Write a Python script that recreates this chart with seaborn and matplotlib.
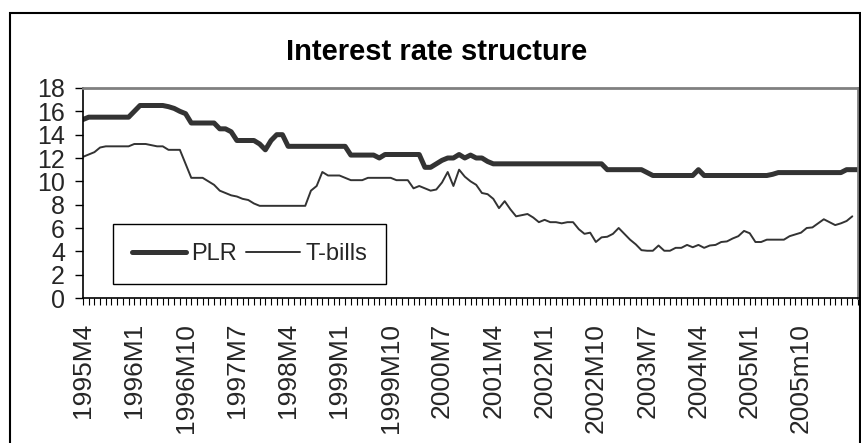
import numpy as np
import pandas as pd
import matplotlib
matplotlib.use("Agg")
import matplotlib.pyplot as plt
import seaborn as sns
from matplotlib.patches import Rectangle
from matplotlib.lines import Line2D
from matplotlib.ticker import MultipleLocator

sns.set_theme(style="white")
plt.rcParams['font.family'] = ['Liberation Sans', 'DejaVu Sans']

# ---------------- data ----------------
tick_labels = ["1995M4", "1996M1", "1996M10", "1997M7", "1998M4", "1999M1",
               "1999M10", "2000M7", "2001M4", "2002M1", "2002M10", "2003M7",
               "2004M4", "2005M1", "2005m10"]

plr = [15.3,
       15.5, 15.5, 15.5, 15.5, 15.5, 15.5, 15.5, 15.5,
       16.0,
       16.5, 16.5, 16.5, 16.5, 16.5,
       16.4, 16.25, 16.0, 15.8,
       15.0, 15.0, 15.0, 15.0, 15.0,
       14.5, 14.5, 14.25,
       13.5, 13.5, 13.5, 13.5,
       13.2, 12.7, 13.5, 14.0, 14.0,
       13.0, 13.0, 13.0, 13.0, 13.0, 13.0, 13.0, 13.0, 13.0, 13.0, 13.0,
       12.25, 12.25, 12.25, 12.25, 12.25,
       12.0,
       12.3, 12.3, 12.3, 12.3, 12.3, 12.3, 12.3,
       11.2, 11.2, 11.5, 11.8, 12.0, 12.0, 12.3, 12.0, 12.25, 12.0, 12.0, 11.7,
       11.5, 11.5, 11.5, 11.5, 11.5, 11.5, 11.5, 11.5, 11.5, 11.5,
       11.5, 11.5, 11.5, 11.5, 11.5, 11.5, 11.5, 11.5, 11.5, 11.5,
       11.0, 11.0, 11.0, 11.0, 11.0, 11.0, 11.0,
       10.75,
       10.5, 10.5, 10.5, 10.5, 10.5, 10.5, 10.5, 10.5,
       11.0,
       10.5, 10.5, 10.5, 10.5, 10.5, 10.5, 10.5, 10.5, 10.5, 10.5, 10.5, 10.5,
       10.6,
       10.75, 10.75, 10.75, 10.75, 10.75, 10.75, 10.75, 10.75, 10.75, 10.75, 10.75, 10.75,
       11.0, 11.0, 11.0]

tbills = [12.1, 12.3, 12.5, 12.9,
          13.0, 13.0, 13.0, 13.0, 13.0,
          13.2, 13.2, 13.2, 13.1, 13.0, 13.0,
          12.7, 12.7, 12.7, 11.5,
          10.3, 10.3, 10.3,
          10.0, 9.7, 9.2, 9.0, 8.8, 8.7, 8.5, 8.4, 8.1,
          7.9, 7.9, 7.9, 7.9, 7.9, 7.9, 7.9, 7.9, 7.9,
          9.2, 9.6, 10.8,
          10.5, 10.5, 10.5, 10.3,
          10.1, 10.1, 10.1,
          10.3, 10.3, 10.3, 10.3, 10.3,
          10.1, 10.1, 10.1,
          9.4, 9.6, 9.4, 9.2, 9.3, 9.9, 10.8, 9.6, 11.0, 10.4,
          10.0, 9.7, 9.0, 8.9, 8.5, 7.7, 8.3, 7.6, 7.0, 7.1,
          7.2, 6.9, 6.5, 6.7, 6.5, 6.5, 6.4, 6.5, 6.5, 5.9,
          5.5, 5.6, 4.8, 5.2, 5.25, 5.5, 6.0, 5.5, 5.0, 4.6,
          4.1, 4.05, 4.05, 4.5, 4.05, 4.05, 4.3, 4.3, 4.55, 4.35,
          4.55, 4.3, 4.5, 4.55, 4.8, 4.85, 5.1, 5.3, 5.75, 5.55,
          4.8, 4.8, 5.0,
          5.0, 5.0, 5.0,
          5.3, 5.45, 5.6, 6.0, 6.05, 6.4, 6.75, 6.5, 6.25, 6.4, 6.6, 7.0,
          np.nan]

assert len(plr) == len(tbills)

n = len(plr)
df = pd.DataFrame({"month": np.arange(n), "PLR": plr, "T-bills": tbills})

# ---------------- figure ----------------
W, H = 861, 443
fig = plt.figure(figsize=(W / 100, H / 100), dpi=100)
fig.patch.set_facecolor("white")

x0, x1, ytop, ybot = 83, 858, 88, 298
ax = fig.add_axes([x0 / W, 1 - ybot / H, (x1 - x0) / W, (ybot - ytop) / H])
ax.set_facecolor("white")

line_col = "#333333"
sns.lineplot(data=df, x="month", y="PLR", ax=ax, color=line_col, lw=3.6,
             legend=False)
sns.lineplot(data=df, x="month", y="T-bills", ax=ax, color=line_col, lw=1.4,
             legend=False)

ax.set_xlim(0, n - 1)
ax.set_ylim(0, 18)
ax.set_xlabel("")
ax.set_ylabel("")

# y axis
ax.set_yticks(np.arange(0, 19, 2))
ax.tick_params(axis="y", direction="out", length=6, width=1, color="black",
               labelsize=18, pad=7, left=True)

# x axis
label_pos = np.arange(0, 9 * len(tick_labels), 9)
ax.set_xticks(label_pos)
ax.set_xticklabels(tick_labels, rotation=90, fontsize=19)
ax.xaxis.set_minor_locator(MultipleLocator(1))
ax.tick_params(axis="x", which="both", direction="out", length=5, width=0.8,
               color="black", bottom=True, pad=13)

ax.grid(False)
for side in ["left", "bottom"]:
    ax.spines[side].set_color("black")
    ax.spines[side].set_linewidth(1.2)
for side in ["top", "right"]:
    ax.spines[side].set_color("#808080")
    ax.spines[side].set_linewidth(2)
    ax.spines[side].set_visible(True)

# legend
handles = [Line2D([], [], color=line_col, lw=3.6),
           Line2D([], [], color=line_col, lw=1.4)]
leg = ax.legend(handles, ["PLR", "T-bills"], loc="lower left",
                bbox_to_anchor=((113 - x0) / (x1 - x0), (ybot - 284) / (ybot - ytop)),
                ncol=2, frameon=True, fancybox=False, framealpha=1,
                edgecolor="black", fontsize=17, handlelength=2.3,
                handletextpad=0.2, columnspacing=0.4, borderpad=0.8,
                borderaxespad=0)
leg.get_frame().set_linewidth(1.0)

# title
fig.text(437 / W, 1 - 52.5 / H, "Interest rate structure", ha="center",
         va="center", fontsize=21, fontweight="bold", color="black")

# outer chart frame
fig.patches.append(Rectangle((10 / W, -0.05), (860 - 10) / W, (1 - 13 / H) + 0.05,
                             transform=fig.transFigure, fill=False,
                             lw=1.5, ec="black", zorder=0))

fig.savefig("out.png", dpi=100, facecolor="white")
